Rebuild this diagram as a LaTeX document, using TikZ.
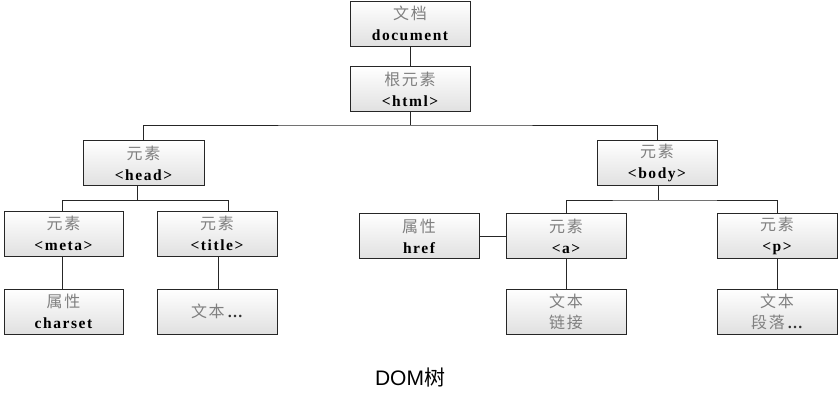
\documentclass[tikz,border=0pt]{standalone}
\usepackage{fontspec}
\setmainfont{Liberation Serif}
\newfontfamily\cjk[LetterSpace=10]{Noto Sans CJK SC}
\newfontfamily\cjkt{Noto Sans CJK SC}
\newfontfamily\lat[LetterSpace=10]{Liberation Serif}
\newfontfamily\capsans{Liberation Sans}
\definecolor{cn}{gray}{0.5}
\newcommand{\cn}[1]{{\cjk\fontsize{16}{21}\selectfont\color{cn}#1}}
\newcommand{\lt}[1]{{\lat\bfseries #1}}
\newcommand{\mydots}{{\color{black!80}\bfseries\,…}}
\begin{document}
\begin{tikzpicture}[x=1pt,y=-1pt,
  box/.style={draw=black!85,line width=0.8pt,top color=white,bottom color=black!12,
    minimum width=120pt,minimum height=45pt,inner sep=0pt,align=center,
    font=\fontsize{15.5}{21}\selectfont},
  conn/.style={draw=black!85,line width=0.8pt}]
\useasboundingbox (0,0) rectangle (840,405);
\node[box] (doc) at (410,23.5) {\cn{文档}\\\lt{document}};
\node[box] (html) at (410,89) {\cn{根元素}\\\lt{<html>}};
\node[box,minimum width=121pt] (head) at (143.5,163) {\cn{元素}\\\lt{<head>}};
\node[box] (body) at (657,163) {\cn{元素}\\\lt{<body>}};
\node[box,minimum width=119pt] (meta) at (63.5,233.5) {\cn{元素}\\\lt{<meta>}};
\node[box] (title) at (217,233.5) {\cn{元素}\\\lt{<title>}};
\node[box,minimum width=119pt] (charset) at (63.5,311.5) {\cn{属性}\\\lt{charset}};
\node[box] (ttext) at (217,311.5) {\cn{文本}\mydots};
\node[box] (href) at (419,236) {\cn{属性}\\\lt{href}};
\node[box] (a) at (566,236) {\cn{元素}\\\lt{<a>}};
\node[box] (p) at (777,236) {\cn{元素}\\\lt{<p>}};
\node[box] (link) at (566,311.5) {\cn{文本}\\\cn{链接}};
\node[box] (para) at (777,311.5) {\cn{文本}\\\cn{段落}\mydots};
\node (cap) at (410,378) {\fontsize{21}{24}\selectfont{\capsans DOM}{\cjkt 树}};
% connectors
\draw[conn] (doc) -- (html);
\coordinate (hb) at (410,125);
\draw[conn] (html.south) -- (hb);
\draw[conn] (head.north) |- (hb) -| (body.north);
\coordinate (hdb) at (137,200);
\draw[conn] (head.south -| hdb) -- (hdb);
\coordinate (tdrop) at (228,200);
\draw[conn] (meta.north -| 62,0) |- (tdrop) -- (title.north -| tdrop);
\coordinate (bb) at (658,200);
\draw[conn] (body.south -| bb) -- (bb);
\draw[conn] (a.north) |- (bb) -| (p.north);
\draw[conn] (href) -- (a);
\draw[conn] (meta.south -| 62,0) -- (charset.north -| 62,0);
\draw[conn] (title.south -| 218,0) -- (ttext.north -| 218,0);
\draw[conn] (a) -- (link);
\draw[conn] (p) -- (para);
\end{tikzpicture}
\end{document}
